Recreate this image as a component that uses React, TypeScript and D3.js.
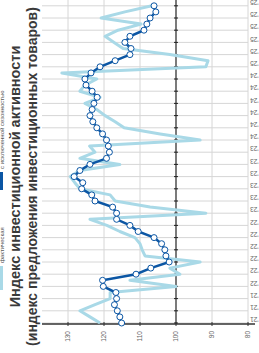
import React from 'react';
import * as d3 from 'd3';

// original chart is 353 x 259, shown rotated -90deg in a 259 x 353 window
const W = 353;
const H = 259;

const tickYears: string[] = [
  "'21", "'21", "'21",
  "'22", "'22", "'22", "'22", "'22", "'22",
  "'23", "'23", "'23", "'23", "'23", "'23",
  "'24", "'24", "'24", "'24", "'24", "'24",
  "'25", "'25", "'25", "'25", "'25", "'25",
];

const valueTicks: number[] = [80, 90, 100, 110, 120, 130];

// monthly index values, actual
const actual: number[] = [
  121.1, 123.9, 126.7, 122.5, 118.3, 118.3, 100.0, 112.8, 98.9, 101.7,
  93.3, 108.6, 109.4, 110.0, 111.4, 115.6, 119.2, 123.9, 91.7, 107.2,
  116.9, 118.3, 126.7, 128.1, 129.4, 126.7, 115.6, 126.7, 122.5, 124.0,
  93.3, 104.4, 114.4, 116.9, 119.7, 122.0, 125.3, 121.1, 126.7, 125.3,
  122.0, 131.7, 91.7, 91.1, 101.7, 114.7, 117.2, 119.7, 116.1, 109.7,
  120.8, 114.2, 106.7,
];

// monthly index values, seasonally adjusted
const adjusted: number[] = [
  115.1, 115.6, 116.3, 117.1, 116.5, 116.7, 120.2, 120.4, 111.1, 107.0,
  101.9, 102.8, 103.1, 104.0, 106.1, 110.5, 112.8, 116.5, 116.5, 117.6,
  122.5, 123.4, 126.2, 125.9, 128.3, 126.7, 123.9, 119.3, 118.5, 118.8,
  119.3, 120.4, 122.0, 123.1, 123.9, 123.3, 122.8, 121.9, 123.3, 125.0,
  125.3, 123.6, 121.1, 116.9, 112.8, 112.5, 114.2, 112.8, 108.9, 108.1,
  107.2, 105.6, 106.1,
];

const lightBlue = '#a9d9e7';
const darkBlue = '#0b56a4';
const font = '"Liberation Sans", Arial, sans-serif';

export default function App() {
  const x = d3.scaleLinear().domain([0, adjusted.length - 1]).range([30, 347.2]);
  const y = d3.scaleLinear().domain([80, 130]).range([248, 68]);

  const line = d3.line<number>()
    .x((d, i) => x(i))
    .y(d => y(d));

  const gridX = tickYears.map((t, k) => x(k * 2));

  return (
    <svg width={H} height={W} style={{ position: 'absolute', left: 0, top: 0 }}>
      <g transform={`translate(0,${W}) rotate(-90)`} fontFamily={font}>
        <rect x={0} y={0} width={W} height={H} fill="#fff" />

        {/* title */}
        <text x={W / 2} y={20} textAnchor="middle" fontSize={14.5} fontWeight="bold" fill="#3a3a3a">
          Индекс инвестиционной активности
        </text>
        <text x={W / 2} y={37} textAnchor="middle" fontSize={14} fontWeight="bold" fill="#3a3a3a">
          (индекс предложения инвестиционных товаров)
        </text>

        {/* legend */}
        <rect x={63} y={-3} width={24} height={6} fill={lightBlue} />
        <text x={90} y={4} fontSize={6} fill="#555">фактическая</text>
        <rect x={163} y={-3} width={18} height={6} fill={darkBlue} />
        <text x={184} y={4} fontSize={6} fill="#555">с исключенной сезонностью</text>

        {/* vertical grid */}
        {gridX.map((gx, k) => (
          <line key={'gx' + k} x1={gx} x2={gx} y1={42} y2={248} stroke="#d6d6d6" strokeWidth={1} />
        ))}

        {/* horizontal grid */}
        {valueTicks.map(v => (
          <line key={'gy' + v} x1={29} x2={W} y1={y(v)} y2={y(v)}
            stroke={v === 100 ? '#222' : '#d6d6d6'} strokeWidth={v === 100 ? 1.2 : 1} />
        ))}

        {/* ticks on the 100 line */}
        {gridX.map((gx, k) => (
          <line key={'tk' + k} x1={gx} x2={gx} y1={y(100) - 2} y2={y(100) + 2} stroke="#222" strokeWidth={1} />
        ))}

        {/* y axis */}
        <line x1={29} x2={29} y1={42} y2={255} stroke="#333" strokeWidth={1.5} />
        {valueTicks.map(v => (
          <g key={'yt' + v}>
            <line x1={27} x2={31} y1={y(v)} y2={y(v)} stroke="#333" strokeWidth={1} />
            <text x={22} y={y(v)} dy="0.35em" textAnchor="end" fontSize={6.5} fill="#666">{v}</text>
          </g>
        ))}

        {/* time labels */}
        {gridX.map((gx, k) => (
          <text key={'tl' + k} transform={`translate(${gx + 3.5},250) rotate(-90)`}
            textAnchor="end" dy="0.35em" fontSize={6.5} fill="#666">{tickYears[k]}</text>
        ))}

        {/* series */}
        <path d={line(actual) ?? ''} fill="none" stroke={lightBlue} strokeWidth={3} strokeLinejoin="round" />
        <path d={line(adjusted) ?? ''} fill="none" stroke={darkBlue} strokeWidth={2.5} />
        {adjusted.map((d, i) => (
          <circle key={'m' + i} cx={x(i)} cy={y(d)} r={3} fill="#fff" stroke={darkBlue} strokeWidth={1} />
        ))}
      </g>
    </svg>
  );
}
